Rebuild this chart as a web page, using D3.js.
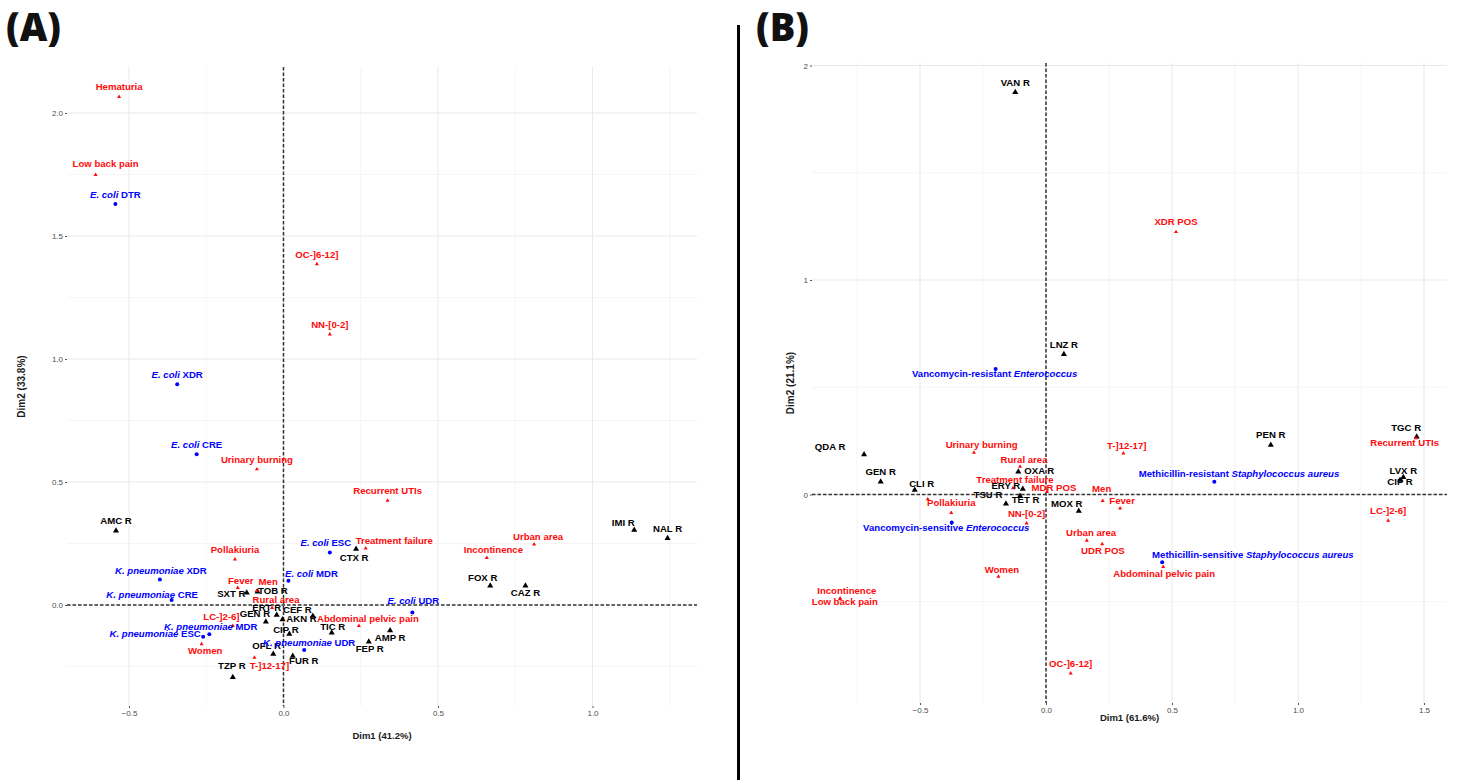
<!DOCTYPE html>
<html>
<head>
<meta charset="utf-8">
<title>MCA biplots (A) and (B)</title>
<script src="https://cdn.jsdelivr.net/npm/d3@7"></script>
<style>
  body { margin: 0; background: #fff; font-family: "Liberation Sans", Arial, sans-serif; }
</style>
</head>
<body>
<svg id="chart" width="1459" height="780"></svg>
<script>
// ---------- panel A data ----------
const clinNamesA = ['Hematuria', 'Low back pain', 'OC-]6-12]', 'NN-[0-2]', 'Urinary burning', 'Recurrent UTIs',
  'Treatment failure', 'Incontinence', 'Urban area', 'Abdominal pelvic pain', 'Pollakiuria', 'Fever', 'Men',
  'Rural area', 'LC-]2-6]', 'Women', 'T-]12-17]'];
const clinDim1A = [-0.532, -0.608, 0.108, 0.150, -0.086, 0.337, 0.266, 0.658, 0.811, 0.244, -0.157, -0.148, -0.087, -0.037, -0.164, -0.265, -0.094];
const clinDim2A = [2.066, 1.749, 1.386, 1.100, 0.552, 0.424, 0.230, 0.192, 0.247, -0.085, 0.186, 0.070, 0.058, -0.012, -0.085, -0.159, -0.214];

const resNamesA = ['AMC R', 'CTX R', 'IMI R', 'NAL R', 'FOX R', 'CAZ R', 'SXT R', 'TOB R', 'ERT R', 'GEN R',
  'CEF R', 'AKN R', 'CIP R', 'TIC R', 'AMP R', 'FEP R', 'OFL R', 'FUR R', 'TZP R'];
const resDim1A = [-0.542, 0.235, 1.135, 1.243, 0.669, 0.783, -0.119, -0.084, -0.022, -0.057, 0.095, -0.003, 0.019, 0.156, 0.345, 0.276, -0.033, 0.030, -0.164];
const resDim2A = [0.302, 0.228, 0.305, 0.271, 0.078, 0.078, 0.050, 0.054, -0.041, -0.068, -0.045, -0.059, -0.118, -0.113, -0.104, -0.149, -0.199, -0.207, -0.294];

const bactNamesA = ['*E. coli* DTR', '*E. coli* XDR', '*E. coli* CRE', '*E. coli* ESC', '*E. coli* MDR', '*E. coli* UDR',
  '*K. pneumoniae* XDR', '*K. pneumoniae* CRE', '*K. pneumoniae* MDR', '*K. pneumoniae* ESC', '*K. pneumoniae* UDR'];
const bactDim1A = [-0.544, -0.344, -0.281, 0.150, 0.016, 0.417, -0.400, -0.362, -0.240, -0.260, 0.067];
const bactDim2A = [1.630, 0.897, 0.613, 0.213, 0.099, -0.031, 0.104, 0.020, -0.119, -0.129, -0.183];

// ---------- panel B data ----------
const clinNamesB = ['XDR POS', 'Urinary burning', 'Rural area', 'Treatment failure', 'MDR POS', 'Men', 'Fever',
  'NN-[0-2]', 'Pollakiuria', 'Hematuria', 'Urban area', 'UDR POS', 'T-]12-17]', 'Recurrent UTIs', 'LC-]2-6]',
  'Abdominal pelvic pain', 'Women', 'Incontinence', 'Low back pain', 'OC-]6-12]'];
const clinDim1B = [0.516, -0.286, -0.103, -0.131, 0.004, 0.225, 0.294, -0.077, -0.376, -0.469, 0.162, 0.223, 0.307, 1.468, 1.358, 0.465, -0.189, -0.817, -0.817, 0.098];
const clinDim2B = [1.224, 0.195, 0.130, 0.030, 0.012, -0.029, -0.064, -0.134, -0.085, -0.021, -0.215, -0.231, 0.192, 0.263, -0.122, -0.337, -0.383, -0.484, -0.487, -0.834];

const resNamesB = ['VAN R', 'LNZ R', 'QDA R', 'GEN R', 'CLI R', 'OXA R', 'ERY R', 'TET R', 'TSU R', 'MOX R',
  'PEN R', 'TGC R', 'LVX R', 'CIP R'];
const resDim1B = [-0.122, 0.071, -0.722, -0.656, -0.521, -0.110, -0.092, -0.103, -0.159, 0.130, 0.892, 1.471, 1.418, 1.405];
const resDim2B = [1.875, 0.654, 0.187, 0.060, 0.021, 0.106, 0.026, -0.007, -0.043, -0.077, 0.231, 0.269, 0.080, 0.068];

const bactNamesB = ['Vancomycin-resistant *Enterococcus*', 'Vancomycin-sensitive *Enterococcus*',
  'Methicillin-resistant *Staphylococcus aureus*', 'Methicillin-sensitive *Staphylococcus aureus*'];
const bactDim1B = [-0.200, -0.374, 0.668, 0.461];
const bactDim2B = [0.585, -0.130, 0.060, -0.316];

// label placement (pixels from the point; default is centred just above)
const nudgeA = {
  'Low back pain': [10, -7.7], 'Treatment failure': [28.6, -4.3], '*E. coli* ESC': [-4, -6.7], 'CTX R': [-2, 11.7],
  'Incontinence': [6.6, -4.4], 'Urban area': [4, -4.3], 'IMI R': [-11, -4.3], 'FOX R': [-7.5, -4.7], 'CAZ R': [0, 10.3],
  '*E. coli* MDR': [23, -4], '*E. coli* UDR': [1, -8.7], 'Abdominal pelvic pain': [9, -4.3], 'TIC R': [1, -2.7],
  'AMP R': [0, 10], 'FEP R': [1, 10], '*K. pneumoniae* UDR': [5, -4.3], 'FUR R': [11, 8.3], 'OFL R': [-6.7, -4.7],
  'T-]12-17]': [15, 11.6], 'TZP R': [-1, -8], 'Women': [3.6, 10], 'CIP R': [-3.5, -0.7], 'LC-]2-6]': [-11.4, -6],
  '*K. pneumoniae* MDR': [1.4, -4.3], '*K. pneumoniae* ESC': [-48, 0], '*K. pneumoniae* CRE': [-19.5, -1.7],
  '*K. pneumoniae* XDR': [1, -5], 'SXT R': [-15.4, 4.6], 'TOB R': [15.3, 2.3], 'Fever': [3, -3.7], 'Men': [11.6, -5.4],
  'Rural area': [4, -4.7], 'ERT R': [-10, -4.3], 'GEN R': [-11, -4.4], 'CEF R': [-15.5, -3.3], 'AKN R': [19, 2.7]
};
const nudgeB = {
  'Vancomycin-resistant *Enterococcus*': [-1, 8.3], 'QDA R': [-34, -4.3], 'CLI R': [7, -2.7],
  'Urinary burning': [7.7, -4.4], 'Rural area': [4, -4], 'OXA R': [21, 2.3], 'Treatment failure': [2, -5.3],
  'ERY R': [-17, 0.3], 'TET R': [5.5, 7], 'TSU R': [-18, -5.4], 'MDR POS': [7, -1.3], 'Men': [-1, -8.4],
  'Fever': [2, -4.3], 'MOX R': [-12, -4.3], 'Vancomycin-sensitive *Enterococcus*': [-5.5, 8.7],
  'Urban area': [4.3, -4.7], 'UDR POS': [0.7, 10.3], 'T-]12-17]': [3.4, -4],
  'Methicillin-resistant *Staphylococcus aureus*': [24.7, -5], 'TGC R': [-10.5, -6], 'Recurrent UTIs': [-11.3, 7.7],
  'LVX R': [0, -3.3], 'CIP R': [0, 5], 'Methicillin-sensitive *Staphylococcus aureus*': [90.7, -4.6],
  'Abdominal pelvic pain': [1, 10.6], 'Women': [3.5, -4], 'Incontinence': [6.7, -4], 'Low back pain': [4.7, 6]
};
const hiddenB = ['Hematuria'];

const styles = {
  res: { color: '#000000', size: 16 },
  clin: { color: '#ff0a0a', size: 7 },
  bact: { color: '#0000ff', size: 0 }
};

const svg = d3.select('#chart');

function build(names, d1, d2, kind) {
  return names.map((n, i) => ({ name: n, x: d1[i], y: d2[i], kind }));
}

function addLabel(sel, str) {
  str.split('*').forEach((part, i) => {
    if (!part) return;
    sel.append('tspan').text(part).style('font-style', i % 2 ? 'italic' : 'normal');
  });
}

function drawPanel(p) {
  const g = svg.append('g');
  const x = d3.scaleLinear().domain(p.xDomain).range([p.left, p.right]);
  const y = d3.scaleLinear().domain(p.yDomain).range([p.bottom, p.top]);

  // grid
  g.selectAll('.gxm').data(p.xMinor).enter().append('line')
    .attr('x1', d => x(d)).attr('x2', d => x(d)).attr('y1', p.top).attr('y2', p.bottom)
    .attr('stroke', '#f3f3f3').attr('stroke-width', 0.8);
  g.selectAll('.gym').data(p.yMinor).enter().append('line')
    .attr('y1', d => y(d)).attr('y2', d => y(d)).attr('x1', p.left).attr('x2', p.right)
    .attr('stroke', '#f3f3f3').attr('stroke-width', 0.8);
  g.selectAll('.gx').data(p.xTicks).enter().append('line')
    .attr('x1', d => x(d)).attr('x2', d => x(d)).attr('y1', p.top).attr('y2', p.bottom)
    .attr('stroke', '#e9e9e9').attr('stroke-width', 1);
  g.selectAll('.gy').data(p.yTicks).enter().append('line')
    .attr('y1', d => y(d)).attr('y2', d => y(d)).attr('x1', p.left).attr('x2', p.right)
    .attr('stroke', '#e9e9e9').attr('stroke-width', 1);

  // axes (ticks and labels only)
  const xAxis = g.append('g').attr('transform', `translate(0,${p.bottom})`)
    .call(d3.axisBottom(x).tickValues(p.xTicks).tickFormat(d3.format(p.xFmt)).tickSize(2).tickPadding(2));
  const yAxis = g.append('g').attr('transform', `translate(${p.left},0)`)
    .call(d3.axisLeft(y).tickValues(p.yTicks).tickFormat(d3.format(p.yFmt)).tickSize(2).tickPadding(2));
  [xAxis, yAxis].forEach(a => {
    a.select('.domain').remove();
    a.selectAll('line').attr('stroke', '#555');
    a.selectAll('text').attr('fill', '#4d4d4d').style('font-size', '8px')
      .style('font-family', '"Liberation Sans", Arial, sans-serif');
  });

  // zero lines
  g.append('line').attr('x1', p.left).attr('x2', p.right).attr('y1', y(0)).attr('y2', y(0))
    .attr('stroke', '#333').attr('stroke-width', 1.5).attr('stroke-dasharray', '3.5,2');
  g.append('line').attr('x1', x(0)).attr('x2', x(0)).attr('y1', p.top).attr('y2', p.bottom)
    .attr('stroke', '#333').attr('stroke-width', 1.5).attr('stroke-dasharray', '3.5,2');

  // markers
  const tri = d3.symbol().type(d3.symbolTriangle);
  g.selectAll('.mk').data(p.points).enter().each(function (d) {
    const s = styles[d.kind];
    if (d.kind === 'bact') {
      d3.select(this).append('circle').attr('cx', x(d.x)).attr('cy', y(d.y)).attr('r', 2).attr('fill', s.color);
    } else {
      d3.select(this).append('path').attr('d', tri.size(s.size)())
        .attr('transform', `translate(${x(d.x)},${y(d.y)})`).attr('fill', s.color);
    }
  });

  // labels
  p.points.filter(d => !p.hidden.includes(d.name)).forEach(d => {
    const n = p.nudge[d.name] || [0, -6.5];
    const t = g.append('text')
      .attr('x', x(d.x) + n[0]).attr('y', y(d.y) + n[1])
      .attr('text-anchor', 'middle')
      .attr('fill', styles[d.kind].color)
      .style('font-size', '9.6px').style('font-weight', 'bold');
    addLabel(t, d.name);
  });

  // axis titles
  g.append('text').attr('x', (p.left + p.right) / 2).attr('y', p.xTitleY)
    .attr('text-anchor', 'middle').attr('fill', '#1a1a1a')
    .style('font-size', '9.5px').style('font-weight', 'bold').text(p.xTitle);
  g.append('text').attr('transform', `translate(${p.yTitleX},${(p.top + p.bottom) / 2}) rotate(-90)`)
    .attr('text-anchor', 'middle').attr('fill', '#1a1a1a')
    .style('font-size', '10px').style('font-weight', 'bold').text(p.yTitle);

  // panel letter
  svg.append('text').attr('x', p.letterX).attr('y', 41)
    .style('font-family', '"Open Sans", sans-serif').style('font-weight', 800).style('font-size', '38px')
    .attr('fill', '#111').text(p.letter);
}

drawPanel({
  letter: '(A)', letterX: 6,
  left: 67, right: 697, top: 67, bottom: 706,
  xDomain: [-0.7006, 1.3382], yDomain: [-0.4106, 2.187],
  xTicks: [-0.5, 0, 0.5, 1.0], yTicks: [0, 0.5, 1.0, 1.5, 2.0],
  xMinor: [-0.25, 0.25, 0.75, 1.25], yMinor: [-0.25, 0.25, 0.75, 1.25, 1.75],
  xFmt: '.1f', yFmt: '.1f',
  xTitle: 'Dim1 (41.2%)', yTitle: 'Dim2 (33.8%)', xTitleY: 739, yTitleX: 25,
  points: [].concat(build(resNamesA, resDim1A, resDim2A, 'res'),
    build(clinNamesA, clinDim1A, clinDim2A, 'clin'),
    build(bactNamesA, bactDim1A, bactDim2A, 'bact')),
  nudge: nudgeA, hidden: []
});

drawPanel({
  letter: '(B)', letterX: 756,
  left: 812, right: 1447, top: 63, bottom: 703,
  xDomain: [-0.9286, 1.5913], yDomain: [-0.972, 2.0117],
  xTicks: [-0.5, 0, 0.5, 1.0, 1.5], yTicks: [0, 1, 2],
  xMinor: [-0.75, -0.25, 0.25, 0.75, 1.25], yMinor: [-0.5, 0.5, 1.5],
  xFmt: '.1f', yFmt: 'd',
  xTitle: 'Dim1 (61.6%)', yTitle: 'Dim2 (21.1%)', xTitleY: 721, yTitleX: 794,
  points: [].concat(build(resNamesB, resDim1B, resDim2B, 'res'),
    build(clinNamesB, clinDim1B, clinDim2B, 'clin'),
    build(bactNamesB, bactDim1B, bactDim2B, 'bact')),
  nudge: nudgeB, hidden: hiddenB
});

// separator between the panels
svg.append('line').attr('x1', 738.5).attr('x2', 738.5).attr('y1', 25).attr('y2', 780)
  .attr('stroke', '#000').attr('stroke-width', 3);
</script>
</body>
</html>
